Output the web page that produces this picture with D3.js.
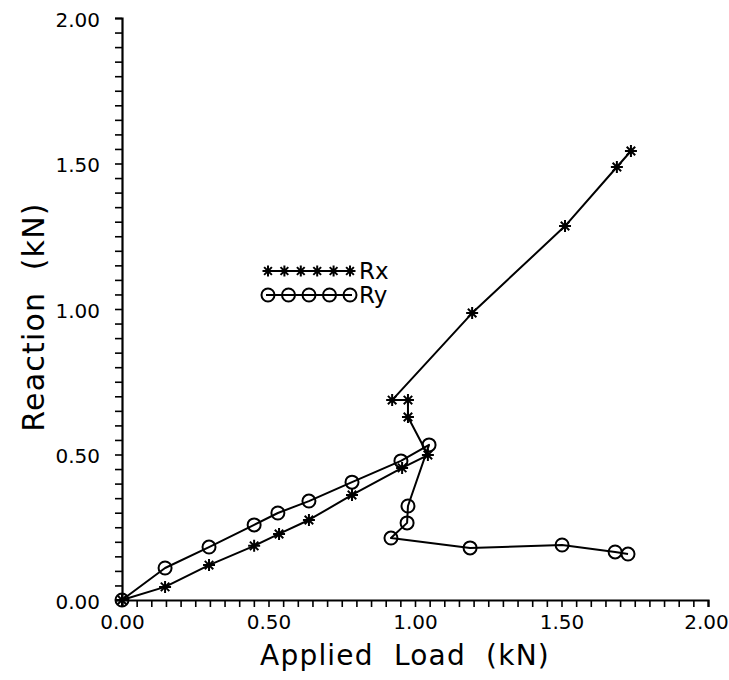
<!DOCTYPE html>
<html>
<head>
<meta charset="utf-8">
<script src="https://cdn.jsdelivr.net/npm/d3@7"></script>
<style>
  html, body { margin: 0; padding: 0; background: #fff; }
  svg text { font-family: "DejaVu Sans", "Liberation Sans", sans-serif; fill: #000; white-space: pre; }
</style>
</head>
<body>
<svg id="chart" width="729" height="680"></svg>
<script>
// ---- data (kN) ----
const rxLoad = [0, 0.147, 0.297, 0.451, 0.536, 0.638, 0.785, 0.956, 1.044, 0.976, 0.976, 0.922, 1.195, 1.512, 1.689, 1.737];
const rxReaction = [0, 0.045, 0.120, 0.186, 0.227, 0.275, 0.361, 0.454, 0.498, 0.629, 0.687, 0.687, 0.986, 1.285, 1.488, 1.543];
const ryLoad = [0, 0.147, 0.297, 0.451, 0.532, 0.638, 0.785, 0.952, 1.048, 0.976, 0.973, 0.918, 1.188, 1.502, 1.683, 1.727];
const ryReaction = [0, 0.110, 0.182, 0.258, 0.299, 0.340, 0.405, 0.478, 0.533, 0.323, 0.265, 0.213, 0.179, 0.189, 0.165, 0.158];
const seriesNames = ["Rx", "Ry"];
const xTitle = "Applied  Load  (kN)";
const yTitle = "Reaction  (kN)";
const axisMax = 2.0;
const minorStep = 0.05;
const majorStep = 0.5;

// ---- layout ----
const svg = d3.select("#chart");
const x = d3.scaleLinear().domain([0, axisMax]).range([122, 708]);
const y = d3.scaleLinear().domain([0, axisMax]).range([600, 18]);

const tickVals = d3.range(0, axisMax + 1e-9, minorStep).map(v => +v.toFixed(2));
const isMajor = v => Math.abs(v / majorStep - Math.round(v / majorStep)) < 1e-6;
const fmt = d3.format(".2f");

const xAxis = d3.axisBottom(x).tickValues(tickVals).tickSize(7).tickPadding(8)
  .tickFormat(v => isMajor(v) ? fmt(v) : "");
const yAxis = d3.axisLeft(y).tickValues(tickVals).tickSize(7).tickPadding(15)
  .tickFormat(v => isMajor(v) ? fmt(v) : "");

const gx = svg.append("g").attr("transform", `translate(0,${y(0)})`).call(xAxis);
const gy = svg.append("g").attr("transform", `translate(${x(0)},0)`).call(yAxis);
[gx, gy].forEach(g => {
  g.select(".domain").attr("stroke", "#000").attr("stroke-width", 2.2);
  g.selectAll(".tick line").attr("stroke", "#000").attr("stroke-width", 1.6);
  g.selectAll(".tick text").style("font-size", "20px");
});
gy.selectAll(".tick text").attr("dy", "0.42em");
gx.selectAll(".tick text").filter(v => v === axisMax).attr("dx", "-2px");

// axis titles
svg.append("text").attr("x", 405).attr("y", 665).attr("text-anchor", "middle")
  .style("font-size", "28px").attr("letter-spacing", "1.2px")
  .text(xTitle);
svg.append("text").attr("transform", "translate(44,317) rotate(-90)").attr("text-anchor", "middle")
  .style("font-size", "30px").attr("letter-spacing", "1.2px")
  .text(yTitle);

// ---- markers ----
function starPath(cx, cy, r) {
  const p = d3.path();
  for (let k = 0; k < 4; k++) {
    const a = k * Math.PI / 4;
    p.moveTo(cx - r * Math.cos(a), cy - r * Math.sin(a));
    p.lineTo(cx + r * Math.cos(a), cy + r * Math.sin(a));
  }
  return p.toString();
}

const line = d3.line().x(d => x(d[0])).y(d => y(d[1]));
const rxPts = rxLoad.map((v, i) => [v, rxReaction[i]]);
const ryPts = ryLoad.map((v, i) => [v, ryReaction[i]]);

svg.append("path").attr("d", line(ryPts)).attr("fill", "none").attr("stroke", "#000")
  .attr("stroke-width", 2).attr("stroke-linejoin", "round");
svg.append("path").attr("d", line(rxPts)).attr("fill", "none").attr("stroke", "#000")
  .attr("stroke-width", 2).attr("stroke-linejoin", "round");

svg.append("g").selectAll("path").data(rxPts).join("path")
  .attr("d", d => starPath(x(d[0]), y(d[1]), 6))
  .attr("stroke", "#000").attr("stroke-width", 2).attr("fill", "none");
svg.append("g").selectAll("circle").data(ryPts).join("circle")
  .attr("cx", d => x(d[0])).attr("cy", d => y(d[1])).attr("r", 6.5)
  .attr("stroke", "#000").attr("stroke-width", 2).attr("fill", "none");

// ---- legend ----
const legX0 = 266, legX1 = 352;
const leg = svg.append("g");
const legRows = [{ name: seriesNames[0], yy: 271, type: "star", n: 6 },
                 { name: seriesNames[1], yy: 295, type: "circle", n: 5 }];
legRows.forEach(r => {
  leg.append("line").attr("x1", legX0).attr("x2", legX1).attr("y1", r.yy).attr("y2", r.yy)
    .attr("stroke", "#000").attr("stroke-width", 2);
  const pos = d3.range(r.n).map(i => legX0 + 2 + i * (legX1 - legX0 - 4) / (r.n - 1));
  pos.forEach(px => {
    if (r.type === "star") {
      leg.append("path").attr("d", starPath(px, r.yy, 5.5)).attr("stroke", "#000")
        .attr("stroke-width", 2).attr("fill", "none");
    } else {
      leg.append("circle").attr("cx", px).attr("cy", r.yy).attr("r", 6.5)
        .attr("stroke", "#000").attr("stroke-width", 2).attr("fill", "none");
    }
  });
  leg.append("text").attr("x", legX1 + 7).attr("y", r.yy).attr("dy", "0.36em")
    .style("font-size", "23px").text(r.name);
});
</script>
</body>
</html>
